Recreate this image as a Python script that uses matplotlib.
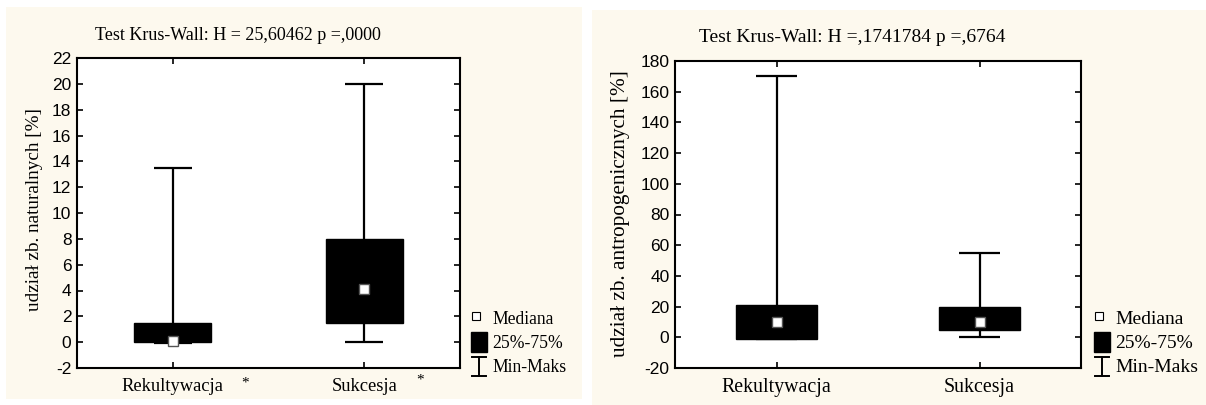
import matplotlib
matplotlib.use("Agg")
import matplotlib.pyplot as plt
from matplotlib.patches import Rectangle
from matplotlib.lines import Line2D

plt.rcParams["axes.unicode_minus"] = False

categories = ["Rekultywacja", "Sukcesja"]

nat_min = [-0.1, 0.0]
nat_q1 = [0.0, 1.5]
nat_med = [0.1, 4.1]
nat_q3 = [1.5, 8.0]
nat_max = [13.5, 20.0]
nat_title = "Test Krus-Wall: H = 25,60462 p =,0000"
nat_ylabel = "udział zb. naturalnych [%]"
nat_yticks = list(range(-2, 23, 2))

ant_min = [-1.0, 0.0]
ant_q1 = [-1.0, 5.0]
ant_med = [10.0, 10.0]
ant_q3 = [21.0, 20.0]
ant_max = [170.0, 55.0]
ant_title = "Test Krus-Wall: H =,1741784 p =,6764"
ant_ylabel = "udział zb. antropogenicznych [%]"
ant_yticks = list(range(-20, 181, 20))

legend_labels = ["Mediana", "25%-75%", "Min-Maks"]

SERIF = "Liberation Serif"
SANS = "Liberation Sans"
CREAM = "#FDF9EE"

W, H = 1206, 405
fig = plt.figure(figsize=(W / 100, H / 100), dpi=100)
fig.patch.set_facecolor("white")

def fx(px):
    return px / W

def fy(py):
    return 1 - py / H

# panel backgrounds
fig.patches.append(Rectangle((fx(6), fy(399)), fx(582 - 6), (399 - 7) / H,
                             transform=fig.transFigure, facecolor=CREAM, edgecolor="none", zorder=-5))
fig.patches.append(Rectangle((fx(592), fy(405)), fx(1206 - 592), (405 - 10) / H,
                             transform=fig.transFigure, facecolor=CREAM, edgecolor="none", zorder=-5))


def draw_panel(axrect, mins, q1, med, q3, maxs, yticks, ylim, title, title_xy, title_fs,
               ylabel, ylabel_xy, ylabel_fs, cat_fs, leg_x, leg_fs, stars):
    ax = fig.add_axes(axrect)
    ax.set_zorder(1)
    ax.set_facecolor("white")
    x = [1, 2]
    ax.vlines(x, mins, maxs, colors="black", lw=1.6, zorder=2)
    ax.hlines(mins, [v - 0.1 for v in x], [v + 0.1 for v in x], colors="black", lw=1.6, zorder=2)
    ax.hlines(maxs, [v - 0.1 for v in x], [v + 0.1 for v in x], colors="black", lw=1.6, zorder=2)
    ax.bar(x, [b - a for a, b in zip(q1, q3)], bottom=q1, width=0.4, color="black",
           edgecolor="black", zorder=3)
    ax.plot(x, med, linestyle="none", marker="s", markersize=7.2, markerfacecolor="white",
            markeredgecolor="#555555", markeredgewidth=1.0, zorder=4)
    ax.set_xlim(0.5, 2.5)
    ax.set_ylim(*ylim)
    ax.set_yticks(yticks)
    ax.set_xticks(x)
    ax.set_xticklabels(categories, fontfamily=SERIF, fontsize=cat_fs)
    for lab in ax.get_yticklabels():
        lab.set_fontfamily(SANS)
        lab.set_fontsize(12.5)
    ax.tick_params(axis="both", direction="in", length=4, width=1.2, top=True, right=True,
                   colors="black")
    ax.tick_params(axis="y", pad=4)
    ax.tick_params(axis="x", pad=7)
    for s in ax.spines.values():
        s.set_linewidth(1.5)
    fig.text(fx(title_xy[0]), fy(title_xy[1]), title, fontfamily=SERIF, fontsize=title_fs,
             ha="center", va="center")
    fig.text(fx(ylabel_xy[0]), fy(ylabel_xy[1]), ylabel, fontfamily=SERIF, fontsize=ylabel_fs,
             rotation=90, ha="center", va="center")
    # legend
    lx = leg_x
    fig.patches.append(Rectangle((fx(lx - 7.5), fy(320)), fx(8), 8 / H, transform=fig.transFigure,
                                 facecolor="white", edgecolor="black", lw=0.8, zorder=5))
    fig.text(fx(lx + 13), fy(320), legend_labels[0], fontfamily=SERIF, fontsize=leg_fs,
             ha="left", va="center")
    fig.patches.append(Rectangle((fx(lx - 8), fy(352)), fx(16), 20 / H, transform=fig.transFigure,
                                 facecolor="black", edgecolor="black", zorder=5))
    fig.text(fx(lx + 13), fy(343), legend_labels[1], fontfamily=SERIF, fontsize=leg_fs,
             ha="left", va="center")
    fig.lines.append(Line2D([fx(lx), fx(lx)], [fy(357), fy(376)], transform=fig.transFigure,
                            color="black", lw=1.4))
    fig.lines.append(Line2D([fx(lx - 7), fx(lx + 7)], [fy(357), fy(357)], transform=fig.transFigure,
                            color="black", lw=1.4))
    fig.lines.append(Line2D([fx(lx - 7), fx(lx + 7)], [fy(376), fy(376)], transform=fig.transFigure,
                            color="black", lw=1.4))
    fig.text(fx(lx + 13), fy(367), legend_labels[2], fontfamily=SERIF, fontsize=leg_fs,
             ha="left", va="center")
    for sx, sy in stars:
        fig.text(fx(sx), fy(sy), "*", fontfamily=SERIF, fontsize=11, ha="center", va="center")
    return ax


draw_panel([fx(77), fy(368), fx(460 - 77), (368 - 58) / H],
           nat_min, nat_q1, nat_med, nat_q3, nat_max, nat_yticks, (-2, 22),
           nat_title, (238, 35), 13, nat_ylabel, (35, 210), 13.8, 13.3, 479, 12.7,
           [(245, 383), (420, 380)])

draw_panel([fx(675), fy(368), fx(1081 - 675), (368 - 61) / H],
           ant_min, ant_q1, ant_med, ant_q3, ant_max, ant_yticks, (-20, 180),
           ant_title, (852, 37), 14, ant_ylabel, (621, 214), 15.3, 14.3, 1102, 14,
           [])

fig.savefig("out.png", dpi=100, facecolor=fig.get_facecolor())
